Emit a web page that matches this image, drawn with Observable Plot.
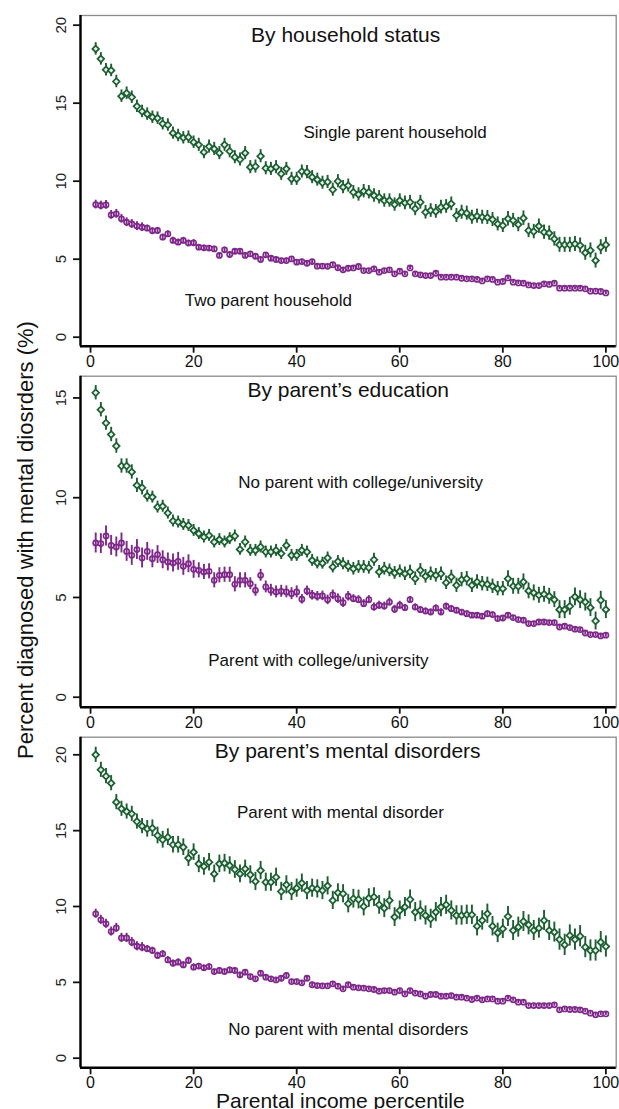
<!DOCTYPE html>
<html>
<head>
<meta charset="utf-8">
<script src="https://cdn.jsdelivr.net/npm/d3@7"></script>
<script src="https://cdn.jsdelivr.net/npm/@observablehq/plot@0.6"></script>
<style>
  body { margin: 0; background: #fff; }
  #chart { position: relative; width: 619px; height: 1109px; overflow: hidden; background: #fff;
           font-family: "Liberation Sans", Arial, sans-serif; color: #111; }
  #chart > svg { position: absolute; left: 0; }
</style>
</head>
<body>
<div id="chart"></div>
<script>
// Parental income percentile (1..100) shared by every series
const percentiles = d3.range(1, 101);
const xTickValues = [0, 20, 40, 60, 80, 100];

// --- By household status ---------------------------------------------------
const singleParent = [
  18.48, 17.84, 17.14, 17.10, 16.39, 15.45, 15.64, 15.38, 14.80, 14.47,
  14.30, 14.10, 14.04, 13.68, 13.60, 13.08, 12.93, 12.78, 12.82, 12.50,
  12.33, 11.86, 12.22, 12.07, 11.80, 12.33, 11.92, 11.54, 11.39, 11.80,
  10.90, 10.94, 11.60, 10.83, 10.79, 10.90, 10.47, 10.79, 10.15, 10.15,
  10.62, 10.58, 10.26, 10.10, 9.90, 9.95, 9.45, 10.00, 9.62, 9.72,
  9.29, 9.15, 9.36, 9.29, 9.08, 8.97, 8.76, 8.76, 8.50, 8.76,
  8.61, 8.65, 8.23, 8.65, 8.01, 8.12, 8.06, 8.33, 8.38, 8.55,
  7.80, 8.01, 7.95, 7.69, 7.76, 7.69, 7.67, 7.54, 7.26, 7.16,
  7.59, 7.48, 7.22, 7.63, 6.84, 6.77, 7.12, 6.73, 6.67, 6.30,
  5.92, 5.92, 5.92, 5.98, 5.88, 5.41, 5.56, 4.91, 5.77, 5.92
];
const twoParent = [
  8.50, 8.44, 8.48, 7.84, 7.91, 7.59, 7.37, 7.26, 7.12, 7.05,
  6.99, 6.82, 6.84, 6.41, 6.62, 6.20, 6.09, 6.20, 6.03, 6.05,
  5.77, 5.73, 5.71, 5.66, 5.24, 5.60, 5.30, 5.51, 5.51, 5.24,
  5.34, 5.19, 4.98, 5.28, 5.06, 4.98, 4.91, 4.91, 5.02, 4.81,
  4.85, 4.74, 4.85, 4.55, 4.56, 4.54, 4.65, 4.45, 4.32, 4.42,
  4.44, 4.53, 4.27, 4.27, 4.38, 4.17, 4.27, 4.32, 4.06, 4.23,
  4.06, 4.44, 4.06, 4.00, 3.95, 3.95, 4.10, 3.85, 3.85, 3.85,
  3.85, 3.78, 3.74, 3.74, 3.70, 3.61, 3.74, 3.70, 3.53, 3.57,
  3.80, 3.53, 3.48, 3.46, 3.35, 3.31, 3.31, 3.42, 3.38, 3.46,
  3.14, 3.14, 3.14, 3.14, 3.14, 3.10, 2.95, 2.95, 2.93, 2.84
];
// 95% CI half-widths, one value per income decile
const singleParentCI = [0.40, 0.40, 0.42, 0.42, 0.42, 0.43, 0.44, 0.45, 0.46, 0.48];
const twoParentCI    = [0.28, 0.20, 0.17, 0.15, 0.13, 0.12, 0.11, 0.10, 0.10, 0.10];

// --- By parent's education -------------------------------------------------
const noCollege = [
  15.26, 14.41, 13.74, 13.17, 12.59, 11.59, 11.59, 11.29, 10.62, 10.50,
  10.08, 10.03, 9.53, 9.57, 9.23, 8.83, 8.78, 8.66, 8.61, 8.36,
  8.20, 8.03, 8.11, 7.78, 7.90, 7.78, 7.95, 8.08, 7.41, 7.78,
  7.36, 7.36, 7.53, 7.28, 7.28, 7.36, 7.20, 7.61, 7.11, 7.11,
  7.36, 7.28, 6.86, 6.73, 6.72, 6.98, 6.53, 6.80, 6.69, 6.56,
  6.44, 6.53, 6.53, 6.49, 6.89, 6.28, 6.44, 6.36, 6.23, 6.31,
  6.19, 6.28, 5.94, 6.36, 6.06, 6.19, 6.11, 6.19, 5.74, 6.03,
  5.61, 5.89, 5.94, 5.61, 5.78, 5.69, 5.66, 5.56, 5.44, 5.44,
  5.94, 5.56, 5.56, 5.78, 5.33, 5.23, 5.11, 5.16, 5.06, 4.89,
  4.39, 4.39, 4.56, 5.03, 4.89, 4.77, 4.49, 3.82, 4.86, 4.39
];
const withCollege = [
  7.73, 7.70, 8.08, 7.61, 7.53, 7.73, 7.31, 7.11, 7.40, 6.98,
  7.31, 6.94, 7.15, 6.89, 6.78, 6.73, 6.81, 6.56, 6.69, 6.41,
  6.36, 6.28, 6.31, 5.86, 6.11, 6.14, 6.14, 5.66, 5.86, 5.86,
  5.69, 5.36, 6.11, 5.53, 5.36, 5.28, 5.31, 5.28, 5.19, 5.28,
  4.91, 5.33, 5.11, 5.06, 5.08, 4.88, 5.13, 4.94, 4.74, 5.06,
  4.94, 4.89, 4.69, 4.89, 4.52, 4.61, 4.57, 4.77, 4.41, 4.61,
  4.49, 4.89, 4.52, 4.39, 4.32, 4.27, 4.47, 4.27, 4.56, 4.44,
  4.36, 4.27, 4.19, 4.11, 4.11, 4.06, 4.19, 4.14, 3.94, 3.97,
  4.11, 3.99, 3.89, 3.86, 3.69, 3.69, 3.77, 3.77, 3.74, 3.74,
  3.52, 3.56, 3.49, 3.41, 3.39, 3.22, 3.14, 3.14, 3.07, 3.11
];
const noCollegeCI   = [0.36, 0.30, 0.30, 0.30, 0.30, 0.32, 0.34, 0.36, 0.40, 0.45];
const withCollegeCI = [0.50, 0.45, 0.38, 0.30, 0.24, 0.20, 0.16, 0.13, 0.11, 0.10];

// --- By parent's mental disorders ------------------------------------------
const parentDisorder = [
  20.00, 19.01, 18.59, 18.13, 16.88, 16.44, 16.26, 16.11, 15.60, 15.30,
  15.12, 15.16, 14.68, 14.40, 14.57, 14.07, 14.07, 13.91, 13.19, 13.58,
  12.81, 12.64, 12.92, 12.15, 12.81, 12.86, 12.70, 12.44, 12.15, 12.48,
  12.09, 11.65, 12.37, 11.60, 11.60, 11.93, 10.99, 11.43, 10.99, 11.21,
  11.54, 11.05, 11.21, 11.16, 11.05, 11.36, 10.40, 10.90, 10.84, 10.18,
  10.51, 10.46, 10.00, 10.55, 10.62, 10.11, 9.89, 10.40, 9.30, 9.74,
  9.96, 10.46, 9.63, 9.74, 9.41, 9.19, 9.63, 9.96, 10.11, 9.74,
  9.41, 9.41, 9.45, 9.45, 8.70, 9.08, 9.52, 8.70, 8.26, 8.53,
  9.34, 8.42, 8.64, 9.01, 8.79, 8.42, 8.57, 9.08, 8.42, 8.31,
  7.82, 7.47, 8.09, 7.82, 8.04, 7.32, 7.10, 7.10, 7.65, 7.36
];
const noParentDisorder = [
  9.52, 9.12, 8.86, 8.35, 8.59, 7.93, 7.93, 7.65, 7.38, 7.32,
  7.21, 7.10, 6.77, 6.88, 6.48, 6.26, 6.33, 6.15, 6.44, 6.00,
  6.07, 5.96, 6.04, 5.71, 5.78, 5.71, 5.82, 5.78, 5.49, 5.67,
  5.38, 5.23, 5.60, 5.34, 5.23, 5.16, 5.27, 5.45, 5.05, 5.05,
  4.97, 5.27, 4.84, 4.79, 4.77, 4.77, 4.90, 4.75, 4.57, 4.84,
  4.68, 4.64, 4.62, 4.57, 4.53, 4.42, 4.46, 4.46, 4.35, 4.46,
  4.24, 4.46, 4.29, 4.24, 4.09, 4.20, 4.20, 4.09, 4.09, 4.13,
  4.02, 4.02, 3.96, 3.87, 3.96, 3.85, 3.91, 3.91, 3.76, 3.76,
  3.96, 3.85, 3.69, 3.69, 3.47, 3.47, 3.47, 3.47, 3.47, 3.52,
  3.19, 3.25, 3.21, 3.21, 3.19, 3.10, 2.97, 2.86, 2.92, 2.92
];
const parentDisorderCI   = [0.50, 0.55, 0.58, 0.60, 0.60, 0.62, 0.63, 0.64, 0.66, 0.70];
const noParentDisorderCI = [0.30, 0.22, 0.18, 0.15, 0.13, 0.12, 0.12, 0.11, 0.10, 0.10];

// Texts
const panelTitles = ["By household status", "By parent\u2019s education", "By parent\u2019s mental disorders"];
const seriesNames = [
  ["Single parent household", "Two parent household"],
  ["No parent with college/university", "Parent with college/university"],
  ["Parent with mental disorder", "No parent with mental disorders"]
];
const yTickSets = [[0, 5, 10, 15, 20], [0, 5, 10, 15], [0, 5, 10, 15, 20]];
const yTitle = "Percent diagnosed with mental diosrders (%)";
const xTitle = "Parental income percentile";

// Styling
const GREEN = "#1b5e31";
const PURPLE = "#7e2889";
const FONT = "Liberation Sans, Arial, sans-serif";
const xDomain = [-1.95, 102];

function rowsFor(values, ci) {
  return values.map((v, i) => ({p: percentiles[i], v, e: ci[Math.min(9, Math.floor(i / 10))]}));
}

function drawPanel(cfg) {
  const hi = rowsFor(cfg.high, cfg.highCI);
  const lo = rowsFor(cfg.low, cfg.lowCI);
  const marks = [
    Plot.frame({stroke: "#8a8a8a", strokeWidth: 1.3}),
    // error bars and point estimates
    Plot.ruleX(lo, {x: "p", y1: d => d.v - d.e, y2: d => d.v + d.e, stroke: PURPLE, strokeWidth: 1.9}),
    Plot.dot(lo, {x: "p", y: "v", symbol: "circle", r: 2.6, fill: "none", stroke: PURPLE, strokeWidth: 1.6}),
    Plot.ruleX(hi, {x: "p", y1: d => d.v - d.e, y2: d => d.v + d.e, stroke: GREEN, strokeWidth: 1.9}),
    Plot.dot(hi, {x: "p", y: "v", symbol: "diamond2", r: 3.0, fill: "#e8f0ea", stroke: GREEN, strokeWidth: 1.7}),
    // heavy left and bottom axis lines
    Plot.ruleX([xDomain[0]], {stroke: "black", strokeWidth: 2.4}),
    Plot.ruleY([cfg.yDomain[0]], {stroke: "black", strokeWidth: 2.4}),
    Plot.axisX({ticks: xTickValues, tickSize: 7, tickPadding: 2, fontSize: 16, strokeWidth: 1.8, label: null}),
    Plot.axisY({ticks: cfg.yTicks, tickSize: 7, strokeWidth: 1.8, fill: "none", label: null}),
    Plot.text(cfg.yTicks, {y: d => d, text: d => `${d}`, frameAnchor: "left", rotate: -90, dx: -14.5,
      textAnchor: "middle", lineAnchor: "bottom", fontSize: 15, fill: "#222"}),
    // panel title and series labels
    Plot.text([cfg.title], {x: cfg.titleAt[0], y: cfg.titleAt[1], text: d => d, fontSize: 21,
      lineAnchor: "bottom", fill: "#111"}),
    Plot.text([cfg.names[0]], {x: cfg.highAt[0], y: cfg.highAt[1], text: d => d, fontSize: 17,
      lineAnchor: "bottom", fill: "#111"}),
    Plot.text([cfg.names[1]], {x: cfg.lowAt[0], y: cfg.lowAt[1], text: d => d, fontSize: 17,
      lineAnchor: "bottom", fill: "#111"})
  ];
  if (cfg.xTitle) {
    marks.push(Plot.text([cfg.xTitle], {frameAnchor: "bottom", dx: -8, dy: 40.5, text: d => d,
      lineAnchor: "bottom", fontSize: 21, fill: "#111"}));
  }
  const svg = Plot.plot({
    width: 619,
    height: cfg.height,
    marginLeft: 80,
    marginRight: 3.3,
    marginTop: cfg.marginTop,
    marginBottom: cfg.marginBottom,
    style: {fontFamily: FONT, background: "none", overflow: "visible", color: "#111"},
    x: {domain: xDomain},
    y: {domain: cfg.yDomain},
    marks
  });
  svg.style.top = cfg.top + "px";
  document.getElementById("chart").appendChild(svg);
}

drawPanel({
  top: 0, height: 370, marginTop: 15, marginBottom: 24.3,
  yDomain: [-0.577, 20.62], yTicks: yTickSets[0],
  high: singleParent, highCI: singleParentCI, low: twoParent, lowCI: twoParentCI,
  title: panelTitles[0], names: seriesNames[0],
  titleAt: [49.5, 18.95], highAt: [59.1, 12.76], lowAt: [34.5, 2.03]
});
drawPanel({
  top: 370, height: 361, marginTop: 5.7, marginBottom: 24.3,
  yDomain: [-0.5, 16.09], yTicks: yTickSets[1],
  high: noCollege, highCI: noCollegeCI, low: withCollege, lowCI: withCollegeCI,
  title: panelTitles[1], names: seriesNames[1],
  titleAt: [50.0, 15.04], highAt: [52.4, 10.5], lowAt: [44.2, 1.59]
});
drawPanel({
  top: 731, height: 378, marginTop: 5.7, marginBottom: 41.7,
  yDomain: [-0.633, 21.16], yTicks: yTickSets[2],
  high: parentDisorder, highCI: parentDisorderCI, low: noParentDisorder, lowCI: noParentDisorderCI,
  title: panelTitles[2], names: seriesNames[2],
  titleAt: [49.9, 19.76], highAt: [48.5, 15.82], lowAt: [50.0, 1.56],
  xTitle
});

// Shared y-axis title spanning the three panels
const overlay = d3.select("#chart").append("svg")
  .attr("width", 619).attr("height", 1109)
  .style("top", "0px").style("pointer-events", "none");
overlay.append("text")
  .attr("transform", "translate(33,540) rotate(-90)")
  .attr("text-anchor", "middle")
  .attr("font-family", FONT)
  .attr("font-size", 22)
  .attr("fill", "#111")
  .text(yTitle);
</script>
</body>
</html>
